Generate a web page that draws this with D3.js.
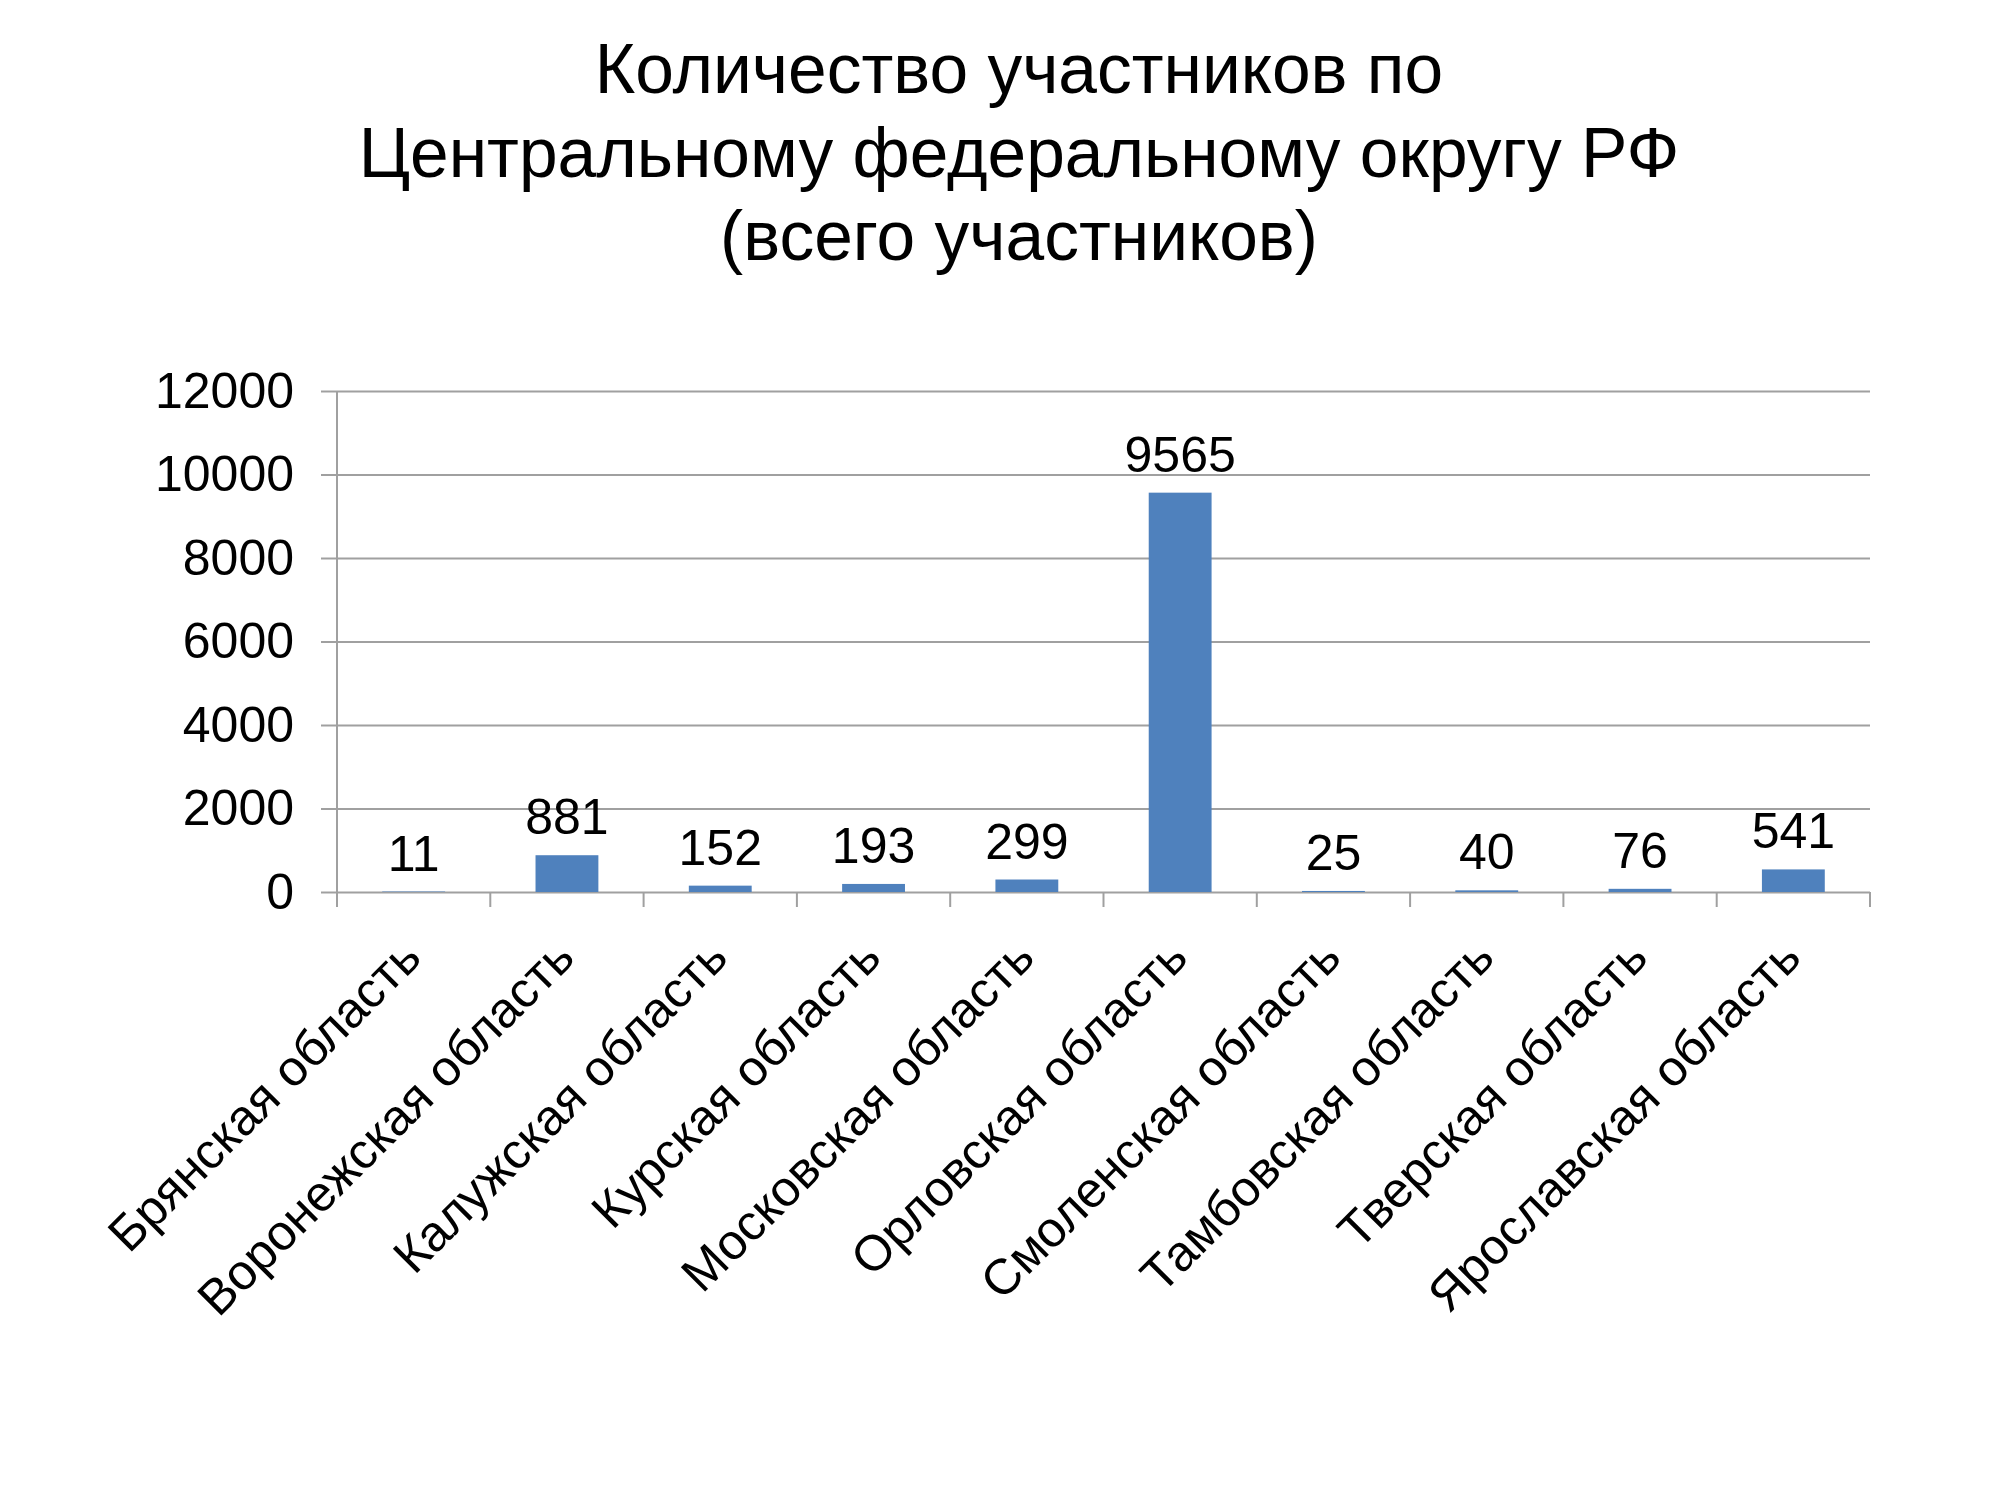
<!DOCTYPE html>
<html>
<head>
<meta charset="utf-8">
<script src="https://cdn.jsdelivr.net/npm/d3@7"></script>
<style>
  body { margin: 0; background: #fff; }
  text { font-family: "Liberation Sans", Arial, Helvetica, sans-serif; fill: #000; }
</style>
</head>
<body>
<script>
// data
const categories = ["Брянская область", "Воронежская область", "Калужская область",
  "Курская область", "Московская область", "Орловская область", "Смоленская область",
  "Тамбовская область", "Тверская область", "Ярославская область"];
const values = [11, 881, 152, 193, 299, 9565, 25, 40, 76, 541];
const yTicks = [0, 2000, 4000, 6000, 8000, 10000, 12000];
const titleLines = ["Количество участников по", "Центральному федеральному округу РФ", "(всего участников)"];

const w = 2000, h = 1500;
const plotLeft = 337, plotRight = 1870, plotTop = 391, plotBottom = 892;
const gridColor = "#a0a0a0";

const svg = d3.select("body").append("svg")
  .attr("width", w)
  .attr("height", h);

// title
svg.append("g").selectAll("text")
  .data(titleLines)
  .enter()
  .append("text")
  .attr("x", 1019)
  .attr("y", (d, i) => 93 + i * 83.5)
  .attr("text-anchor", "middle")
  .style("font-size", "69.5px")
  .text(d => d);

const x = d3.scaleBand().domain(categories).range([plotLeft, plotRight]);
const y = d3.scaleLinear().domain([0, 12000]).range([plotBottom, plotTop]);

// gridlines
svg.append("g")
  .attr("transform", `translate(${plotLeft},0)`)
  .call(d3.axisLeft(y).tickValues(yTicks).tickSize(-(plotRight - plotLeft)).tickFormat(""))
  .call(g => g.select(".domain").remove())
  .selectAll("line")
  .attr("stroke", gridColor)
  .attr("stroke-width", 2);

// y axis with labels
svg.append("g")
  .attr("transform", `translate(${plotLeft},0)`)
  .call(d3.axisLeft(y).tickValues(yTicks).tickSize(16).tickPadding(27).tickFormat(d3.format("d")))
  .call(g => g.select(".domain").remove())
  .call(g => g.selectAll("line").attr("stroke", gridColor).attr("stroke-width", 2))
  .call(g => g.selectAll("text")
    .style("font-size", "50px")
    .style("font-family", "'Liberation Sans', Arial, sans-serif")
    .attr("fill", "#000"));

svg.append("line")
  .attr("x1", plotLeft).attr("x2", plotLeft)
  .attr("y1", plotTop).attr("y2", plotBottom + 15)
  .attr("stroke", gridColor)
  .attr("stroke-width", 2);

// category ticks at band edges
const edges = categories.map(d => x(d)).concat([plotRight]);
svg.append("g").selectAll("line")
  .data(edges)
  .enter()
  .append("line")
  .attr("x1", d => d).attr("x2", d => d)
  .attr("y1", plotBottom).attr("y2", plotBottom + 15)
  .attr("stroke", gridColor)
  .attr("stroke-width", 2);

// bars
const barW = x.bandwidth() * 0.41;
svg.append("g").selectAll("rect")
  .data(values)
  .enter()
  .append("rect")
  .attr("x", (d, i) => x(categories[i]) + (x.bandwidth() - barW) / 2)
  .attr("y", d => y(d))
  .attr("width", barW)
  .attr("height", d => plotBottom - y(d))
  .attr("fill", "#4f81bd");

// value labels
svg.append("g").selectAll("text")
  .data(values)
  .enter()
  .append("text")
  .attr("x", (d, i) => x(categories[i]) + x.bandwidth() / 2)
  .attr("y", d => y(d) - 21)
  .attr("text-anchor", "middle")
  .style("font-size", "50px")
  .text(d => d);

// rotated category labels
svg.append("g").selectAll("text")
  .data(categories)
  .enter()
  .append("text")
  .attr("text-anchor", "end")
  .attr("transform", d => `translate(${x(d) + x.bandwidth() / 2 + 10},${plotBottom + 68}) rotate(-45)`)
  .style("font-size", "50px")
  .text(d => d);
</script>
</body>
</html>
